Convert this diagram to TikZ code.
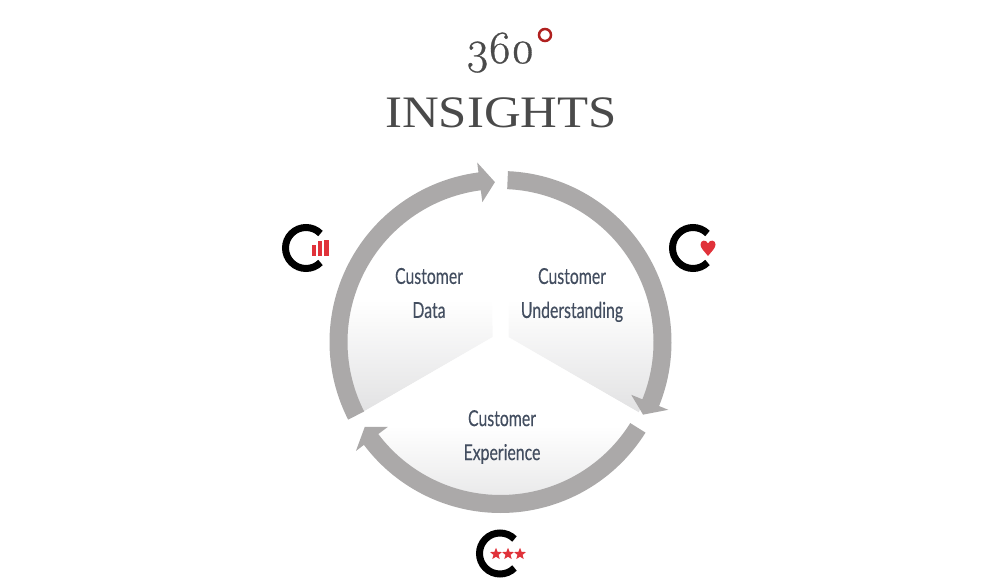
\documentclass[tikz,border=0pt]{standalone}
\usepackage{fontspec}
\usetikzlibrary{shapes.geometric}
\setmainfont{Liberation Serif}
\newfontfamily\wordfont[FakeStretch=1.13]{Liberation Serif}
\newfontfamily\digitfont[FakeBold=0.7]{Latin Modern Roman}
\newfontfamily\labelfont[FakeStretch=0.72,FakeBold=0.25]{Lato}
\definecolor{ringgray}{HTML}{ABA9A9}
\definecolor{titlegray}{HTML}{4A4A4A}
\definecolor{labelblue}{HTML}{434E60}
\definecolor{iconred}{HTML}{E0323A}
\definecolor{dotred}{HTML}{B0201F}
\definecolor{sectorgray}{HTML}{E2E2E3}
\newcommand{\ringarrow}[3]{%
    \fill[ringgray] (#1:171) arc[start angle=#1, end angle=#2, radius=171pt]
        -- (#2:181) -- (#3:160) -- (#2:141) -- (#2:153)
        arc[start angle=#2, end angle=#1, radius=153pt] -- cycle;
}
\begin{document}
\begin{tikzpicture}[
        x=1pt, y=1pt,
        labeltext/.style={text=labelblue, align=center, font=\labelfont\fontsize{22}{34}\selectfont},
        cring/.style={draw=black, line width=7pt},
        redbar/.style={fill=iconred},
        redstar/.style={star, star points=5, star point ratio=2.3, fill=iconred, inner sep=0pt, minimum size=12.5pt},
        sector/.style={top color=white, bottom color=sectorgray, middle color=white, draw=none},
    ]
        \useasboundingbox (0,0) rectangle (1000,586);

        \node[text=titlegray, font=\digitfont\fontsize{46}{46}\selectfont, anchor=base] (degrees) at (500,523) {\oldstylenums{3}\kern-2pt\oldstylenums{6}\kern-1pt\oldstylenums{0}};
        \node[text=titlegray, font=\wordfont\fontsize{45}{45}\selectfont, anchor=base] (insights) at (501,458) {INSIGHTS};
        \draw[dotred, line width=2.5pt] (545,551) circle (6);

        \begin{scope}[shift={(500.5,244)}]
            \shade[sector] (-8,5) -- (93:155) arc[start angle=93, end angle=207, radius=155pt] -- cycle;
            \shade[sector] (8,5) -- (87:155) arc[start angle=87, end angle=-27, radius=155pt] -- cycle;
            \shade[sector] (0,9) -- (207:155) arc[start angle=207, end angle=333, radius=155pt] -- cycle;
            \ringarrow{87.5}{-22}{-27}
            \ringarrow{-32}{-143}{-148}
            \ringarrow{207}{97.4}{92}
        \end{scope}

        \node[labeltext] (datatext) at (429,293) {Customer\\Data};
        \node[labeltext] (understandingtext) at (572,291) {Customer\\Understanding};
        \node[labeltext] (experiencetext) at (502,149) {Customer\\Experience};

        \draw[cring] (306,338) ++(45:20.5) arc[start angle=45, end angle=315, radius=20.5pt];
        \fill[redbar] (312,330) rectangle (316,341);
        \fill[redbar] (318,330) rectangle (322,345);
        \fill[redbar] (324,330) rectangle (328.5,346);

        \draw[cring] (693,338) ++(45:20.5) arc[start angle=45, end angle=315, radius=20.5pt];
        \fill[iconred] (708,330) .. controls (704,335) and (700.5,338) .. (700.5,341.5)
            .. controls (700.5,346) and (706,347) .. (708,342.5)
            .. controls (710,347) and (715.5,346) .. (715.5,341.5)
            .. controls (715.5,338) and (712,335) .. (708,330) -- cycle;

        \draw[cring] (500,32.5) ++(45:20.5) arc[start angle=45, end angle=315, radius=20.5pt];
        \node[redstar] (star1) at (496,32) {};
        \node[redstar] (star2) at (508,32) {};
        \node[redstar] (star3) at (520,32) {};
    \end{tikzpicture}
\end{document}
